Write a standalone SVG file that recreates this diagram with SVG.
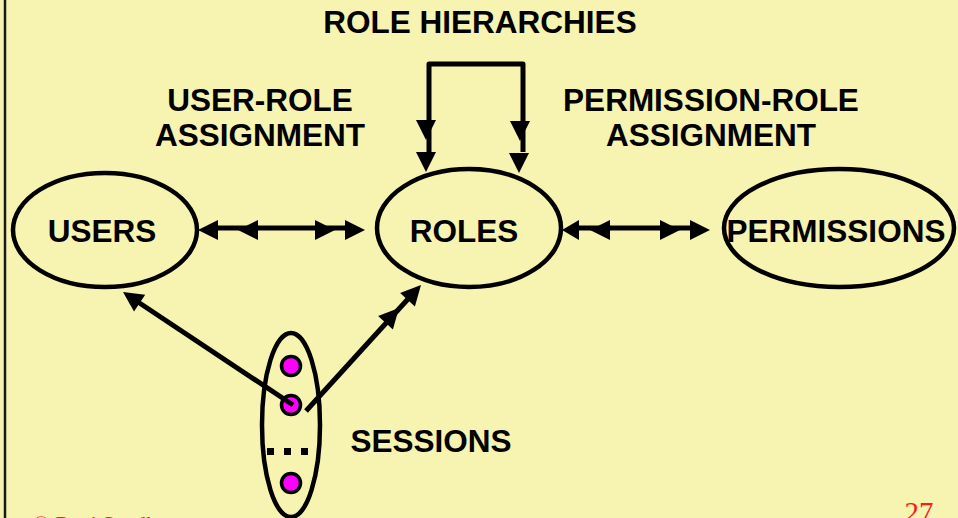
<svg xmlns="http://www.w3.org/2000/svg" xmlns:xlink="http://www.w3.org/1999/xlink" width="958" height="518" viewBox="0 0 958 518">
  <style>
    .bg { fill: #F7F3B1; }
    .frame { stroke: #1a1a1a; stroke-width: 2.5; }
    .node { fill: none; stroke: #000; stroke-width: 4.5; }
    .label { font-family: "Liberation Sans", Arial, sans-serif; font-weight: bold; font-size: 31.5px; fill: #000; text-anchor: middle; }
    .line { fill: none; stroke: #000; stroke-width: 5; stroke-linejoin: round; }
    .dot { fill: #FF00FF; stroke: #000; stroke-width: 3.5; }
    .foot { font-family: "Liberation Serif", "Times New Roman", serif; fill: #FF1A1A; }
  </style>
  <defs>
    <!-- arrowhead pointing along +x, tip at the origin -->
    <path id="tri" d="M0,0 L-20,-10 L-20,10 Z" fill="#000"/>
  </defs>

  <rect class="bg" x="0" y="0" width="958" height="518"/>
  <line class="frame" x1="5" y1="0" x2="5" y2="518"/>

  <text class="label" x="480" y="33">ROLE HIERARCHIES</text>
  <text class="label" x="260" y="111">USER-ROLE</text>
  <text class="label" x="260" y="146">ASSIGNMENT</text>
  <text class="label" x="711" y="111">PERMISSION-ROLE</text>
  <text class="label" x="711" y="146">ASSIGNMENT</text>

  <g id="users">
    <ellipse class="node" cx="105" cy="230" rx="92" ry="57"/>
    <text class="label" x="102" y="242">USERS</text>
  </g>

  <g id="roles">
    <ellipse class="node" cx="469" cy="228" rx="92" ry="59"/>
    <text class="label" x="464" y="242">ROLES</text>
  </g>

  <g id="permissions">
    <ellipse class="node" cx="839" cy="228" rx="115" ry="59"/>
    <text class="label" x="836" y="242">PERMISSIONS</text>
  </g>

  <g id="sessions">
    <ellipse class="node" cx="291" cy="425" rx="29" ry="92"/>
    <circle class="dot" cx="291" cy="366" r="9.5"/>
    <circle class="dot" cx="291" cy="405" r="9.5"/>
    <circle class="dot" cx="291" cy="483" r="9.5"/>
    <rect x="267" y="448" width="7" height="7" fill="#000"/>
    <rect x="284" y="448" width="7" height="7" fill="#000"/>
    <rect x="301" y="448" width="7" height="7" fill="#000"/>
    <text class="label" x="431" y="452">SESSIONS</text>
  </g>

  <g id="connectors">
    <!-- role hierarchy loop -->
    <path class="line" d="M429,152 V64 H523 V152"/>
    <use xlink:href="#tri" transform="translate(426,140) rotate(90)"/>
    <use xlink:href="#tri" transform="translate(426,172) rotate(90)"/>
    <use xlink:href="#tri" transform="translate(520,141) rotate(90)"/>
    <use xlink:href="#tri" transform="translate(519,173) rotate(90)"/>

    <!-- user-role assignment -->
    <line class="line" x1="218" y1="228" x2="348" y2="228"/>
    <use xlink:href="#tri" transform="translate(198,230) rotate(180)"/>
    <use xlink:href="#tri" transform="translate(238,230) rotate(180)"/>
    <use xlink:href="#tri" transform="translate(335,230)"/>
    <use xlink:href="#tri" transform="translate(365,230)"/>

    <!-- permission-role assignment -->
    <line class="line" x1="578" y1="228" x2="692" y2="228"/>
    <use xlink:href="#tri" transform="translate(562,230) rotate(180) scale(0.85,1)"/>
    <use xlink:href="#tri" transform="translate(590,230) rotate(180)"/>
    <use xlink:href="#tri" transform="translate(680,230)"/>
    <use xlink:href="#tri" transform="translate(710,230)"/>

    <!-- session to user -->
    <line class="line" x1="293" y1="405" x2="138" y2="302" stroke-width="4.5"/>
    <use xlink:href="#tri" transform="translate(123,292) rotate(213.9)"/>

    <!-- session to roles -->
    <line class="line" x1="306" y1="411" x2="408" y2="299" stroke-width="4.5"/>
    <use xlink:href="#tri" transform="translate(421,285) rotate(-47.6)"/>
    <use xlink:href="#tri" transform="translate(399,308) rotate(-47.6)"/>
  </g>

  <text class="foot" x="33" y="531" font-size="22">© Ravi Sandhu</text>
  <text class="foot" x="919" y="522" font-size="29" text-anchor="middle">27</text>
</svg>
